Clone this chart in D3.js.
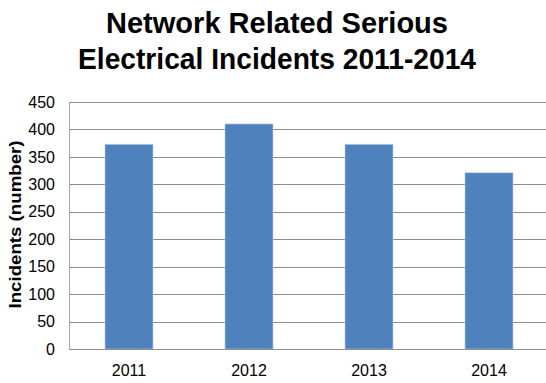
<!DOCTYPE html>
<html>
<head>
<meta charset="utf-8">
<script src="https://cdn.jsdelivr.net/npm/d3@7"></script>
<style>
  body { margin: 0; background: #fff; }
  svg { display: block; font-family: "Liberation Sans", Arial, sans-serif; }
</style>
</head>
<body>
<svg id="chart" width="546" height="383"></svg>
<script>
const years = ['2011', '2012', '2013', '2014'];
const incidents = [373, 410, 373, 321];
const yTicks = [0, 50, 100, 150, 200, 250, 300, 350, 400, 450];
const titleLines = ['Network Related Serious', 'Electrical Incidents 2011-2014'];
const titleWidths = [342, 398];

const margin = { top: 102, right: -3, bottom: 34, left: 69 };
const width = 546 - margin.left - margin.right;
const height = 383 - margin.top - margin.bottom;

const svg = d3.select('#chart');

svg.selectAll('text.title')
  .data(titleLines)
  .join('text')
  .attr('class', 'title')
  .attr('x', 277)
  .attr('y', (d, i) => 33 + i * 36)
  .attr('text-anchor', 'middle')
  .attr('font-size', 29)
  .attr('font-weight', 'bold')
  .attr('fill', '#000')
  .attr('textLength', (d, i) => titleWidths[i])
  .attr('lengthAdjust', 'spacingAndGlyphs')
  .text(d => d);

const g = svg.append('g')
  .attr('transform', `translate(${margin.left},${margin.top})`);

const x = d3.scaleBand()
  .domain(years)
  .range([0, width])
  .paddingInner(0.6)
  .paddingOuter(0.3);

const y = d3.scaleLinear()
  .domain([0, 450])
  .range([height, 0]);

// gridlines
g.append('g')
  .selectAll('line')
  .data(yTicks.slice(1))
  .join('line')
  .attr('x1', 0)
  .attr('x2', width)
  .attr('y1', d => Math.round(y(d)) + 0.5)
  .attr('y2', d => Math.round(y(d)) + 0.5)
  .attr('stroke', '#8c8c8c')
  .attr('stroke-width', 1);

// y axis
const yAxis = g.append('g')
  .call(d3.axisLeft(y).tickValues(yTicks).tickSize(0).tickPadding(14));
yAxis.select('.domain').attr('stroke', '#a6a6a6');
yAxis.selectAll('text')
  .attr('font-size', 16)
  .attr('font-family', '"Liberation Sans", Arial, sans-serif')
  .attr('fill', '#000');

// bars
g.append('g')
  .selectAll('rect')
  .data(incidents)
  .join('rect')
  .attr('x', (d, i) => x(years[i]))
  .attr('y', d => y(d))
  .attr('width', x.bandwidth())
  .attr('height', d => height - y(d))
  .attr('fill', '#4f81bd')
  .attr('stroke', '#bcd0ea')
  .attr('stroke-width', 0.6);

// x axis
const xAxis = g.append('g')
  .attr('transform', `translate(0,${height})`)
  .call(d3.axisBottom(x).tickSize(0).tickPadding(16));
xAxis.select('.domain').attr('stroke', '#8c8c8c');
xAxis.selectAll('text')
  .attr('font-size', 16)
  .attr('font-family', '"Liberation Sans", Arial, sans-serif')
  .attr('fill', '#000');

// y axis title
svg.append('text')
  .attr('transform', `translate(21,${margin.top + height / 2 - 1}) rotate(-90)`)
  .attr('text-anchor', 'middle')
  .attr('font-size', 17)
  .attr('font-weight', 'bold')
  .attr('fill', '#000')
  .attr('textLength', 168)
  .attr('lengthAdjust', 'spacingAndGlyphs')
  .text('Incidents (number)');
</script>
</body>
</html>
